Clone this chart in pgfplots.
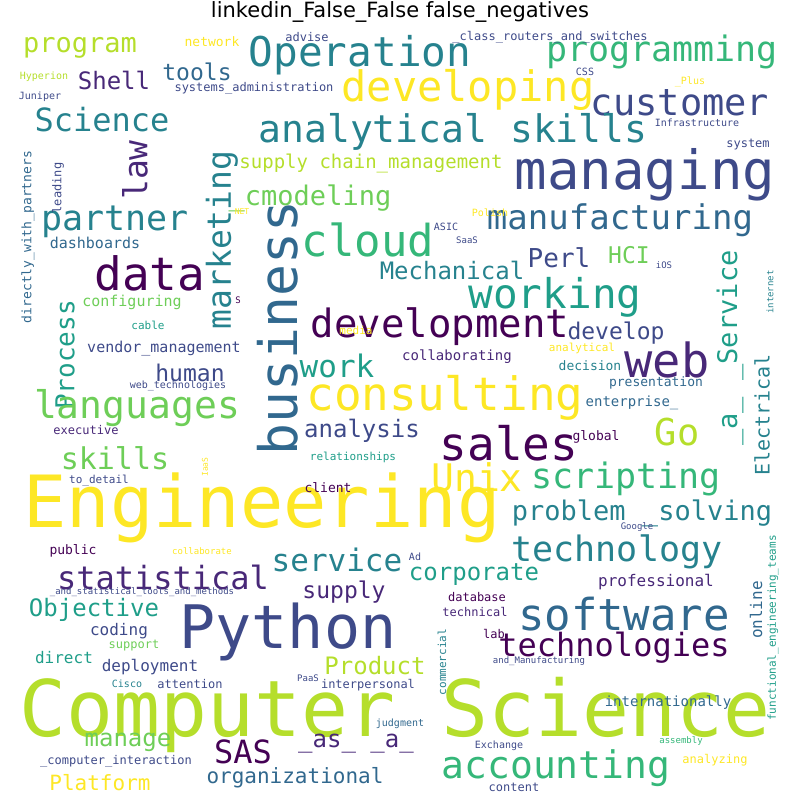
\documentclass[border=0pt]{standalone}
\usepackage{pgfplots}
\pgfplotsset{compat=1.18}
\usepackage{fontspec}
\setmainfont{DejaVu Sans}
\newfontfamily\wcf{DejaVu Sans Mono}
\renewcommand{\_}{\symbol{95}}
\definecolor{vA}{HTML}{440154}
\definecolor{vB}{HTML}{482878}
\definecolor{vC}{HTML}{3E4A89}
\definecolor{vD}{HTML}{31688E}
\definecolor{vE}{HTML}{26828E}
\definecolor{vF}{HTML}{1F9E89}
\definecolor{vG}{HTML}{35B779}
\definecolor{vH}{HTML}{6ECE58}
\definecolor{vI}{HTML}{B5DE2B}
\definecolor{vJ}{HTML}{FDE725}
\newcommand\w[5]{\node[text=#4,inner sep=0,anchor=center] at (axis cs:#1,#2) {\wcf\fontsize{#3}{#3}\selectfont #5};}
\newcommand\vv[5]{\node[text=#4,inner sep=0,anchor=center,rotate=90] at (axis cs:#1,#2) {\wcf\fontsize{#3}{#3}\selectfont #5};}
\begin{document}
\begin{tikzpicture}
\begin{axis}[width=800pt,height=800pt,scale only axis,hide axis,xmin=0,xmax=800,ymin=0,ymax=800,y dir=reverse,clip=false]
\addplot[draw=none] coordinates {(0,0) (800,800)};
\node[inner sep=0] at (axis cs:400,12) {\fontsize{21}{21}\selectfont linkedin\_False\_False false\_negatives};
\w{395}{715}{78}{vI}{Computer Science}
\w{262}{508}{72}{vJ}{Engineering}
\w{288}{632}{60}{vC}{Python}
\w{645}{175}{54}{vC}{managing}
\vv{278}{328}{53}{vD}{business}
\w{360}{55}{41}{vE}{Operation}
\w{662}{52}{35}{vG}{programming}
\w{468}{90}{42}{vJ}{developing}
\w{680}{103}{37}{vC}{customer}
\w{453}{132}{38}{vE}{analytical skills}
\w{102}{120}{32}{vE}{Science}
\w{80}{48}{27}{vI}{program}
\w{114}{80}{24}{vB}{Shell}
\w{197}{72}{23}{vD}{tools}
\w{368}{240}{44}{vG}{cloud}
\vv{222}{240}{33}{vE}{marketing}
\vv{135}{170}{33}{vB}{law}
\w{115}{222}{35}{vE}{partner}
\w{150}{273}{46}{vA}{data}
\w{310}{198}{27}{vH}{\_cmodeling}
\w{371}{163}{19}{vI}{supply chain\_management}
\w{620}{220}{34}{vD}{manufacturing}
\w{559}{258}{26}{vC}{Perl}
\w{629}{255}{23}{vH}{HCI}
\w{555}{297}{41}{vF}{working}
\w{452}{270}{24}{vE}{Mechanical}
\w{440}{327}{39}{vA}{development}
\w{616}{333}{23}{vC}{develop}
\w{667}{360}{47}{vB}{web}
\vv{65}{355}{26}{vF}{Process}
\w{137}{408}{38}{vH}{languages}
\w{445}{398}{46}{vJ}{consulting}
\w{190}{373}{23}{vC}{human}
\w{337}{366}{31}{vF}{work}
\w{509}{443}{46}{vA}{sales}
\w{677}{432}{37}{vI}{Go}
\w{362}{431}{24}{vC}{analysis}
\w{115}{458}{30}{vH}{skills}
\w{477}{477}{38}{vJ}{Unix}
\w{626}{479}{35}{vG}{scripting}
\w{642}{513}{27}{vE}{problem \_solving}
\w{617}{552}{35}{vE}{technology}
\w{337}{560}{31}{vE}{service}
\w{163}{577}{32}{vB}{statistical}
\w{474}{575}{24}{vF}{corporate}
\w{344}{592}{23}{vB}{supply}
\w{624}{614}{44}{vD}{software}
\w{94}{610}{24}{vF}{Objective}
\w{614}{648}{32}{vA}{technologies}
\w{119}{631}{16}{vC}{coding}
\w{375}{666}{24}{vI}{Product}
\w{64}{658}{16}{vF}{direct}
\w{150}{667}{16}{vC}{deployment}
\w{128}{742}{24}{vH}{manage}
\w{243}{752}{32}{vA}{SAS}
\w{356}{744}{24}{vB}{\_as\_ \_a\_}
\w{556}{768}{38}{vG}{accounting}
\w{295}{778}{21}{vD}{organizational}
\w{100}{783}{21}{vJ}{Platform}
\w{668}{703}{14}{vD}{internationally}
\w{656}{582}{16}{vB}{professional}
\vv{756}{610}{16}{vD}{online}
\vv{762}{415}{20}{vE}{Electrical}
\vv{730}{348}{27}{vF}{\_a\_ \_Service}
\w{632}{403}{14}{vD}{enterprise\_}
\w{596}{437}{13}{vA}{global}
\w{656}{383}{13}{vD}{presentation}
\w{590}{366}{13}{vE}{decision}
\w{582}{348}{11}{vJ}{analytical}
\w{457}{357}{14}{vB}{collaborating}
\w{356}{330}{11}{vJ}{media}
\w{164}{349}{15}{vC}{vendor\_management}
\w{132}{302}{15}{vH}{configuring}
\w{95}{243}{15}{vD}{dashboards}
\w{550}{37}{12}{vC}{\_class\_routers\_and\_switches}
\w{212}{42}{13}{vJ}{network}
\w{307}{37}{12}{vC}{advise}
\w{254}{88}{12}{vC}{systems\_administration}
\w{44}{77}{10}{vI}{Hyperion}
\w{40}{97}{10}{vC}{Juniper}
\w{585}{72}{10}{vC}{CSS}
\w{690}{82}{10}{vJ}{\_Plus}
\w{697}{123}{10}{vC}{Infrastructure}
\w{748}{145}{12}{vC}{system}
\w{490}{213}{10}{vJ}{Polish}
\w{446}{227}{10}{vC}{ASIC}
\w{242}{212}{8}{vJ}{NET}
\w{467}{240}{9}{vC}{SaaS}
\w{664}{265}{9}{vC}{iOS}
\w{238}{300}{9}{vA}{S}
\vv{770}{292}{9}{vE}{internet}
\w{148}{325}{11}{vF}{cable}
\vv{28}{237}{13}{vD}{directly\_with\_partners}
\vv{58}{188}{12}{vC}{leading}
\w{178}{386}{10}{vC}{web\_technologies}
\w{86}{430}{12}{vB}{executive}
\w{353}{457}{11}{vF}{relationships}
\w{99}{481}{11}{vC}{to\_detail}
\vv{205}{467}{8}{vJ}{IaaS}
\w{328}{488}{13}{vA}{client}
\w{73}{551}{13}{vA}{public}
\w{202}{551}{9}{vJ}{collaborate}
\w{142}{592}{9}{vC}{\_and\_statistical\_tools\_and\_methods}
\w{415}{557}{10}{vC}{Ad}
\w{637}{527}{9}{vC}{Google}
\vv{773}{628}{11}{vF}{functional\_engineering\_teams}
\w{477}{597}{12}{vA}{database}
\w{475}{612}{12}{vB}{technical}
\vv{442}{662}{11}{vE}{commercial}
\w{494}{634}{12}{vA}{lab}
\w{134}{646}{12}{vH}{support}
\w{539}{661}{9}{vC}{and\_Manufacturing}
\w{190}{684}{12}{vC}{attention}
\w{127}{684}{10}{vE}{Cisco}
\w{308}{678}{9}{vC}{PaaS}
\w{368}{685}{12}{vC}{interpersonal}
\w{400}{724}{10}{vD}{judgment}
\w{681}{741}{9}{vG}{assembly}
\w{499}{746}{10}{vC}{Exchange}
\w{116}{761}{12}{vC}{\_computer\_interaction}
\w{715}{760}{12}{vJ}{analyzing}
\w{514}{787}{12}{vC}{content}
\end{axis}
\end{tikzpicture}
\end{document}
